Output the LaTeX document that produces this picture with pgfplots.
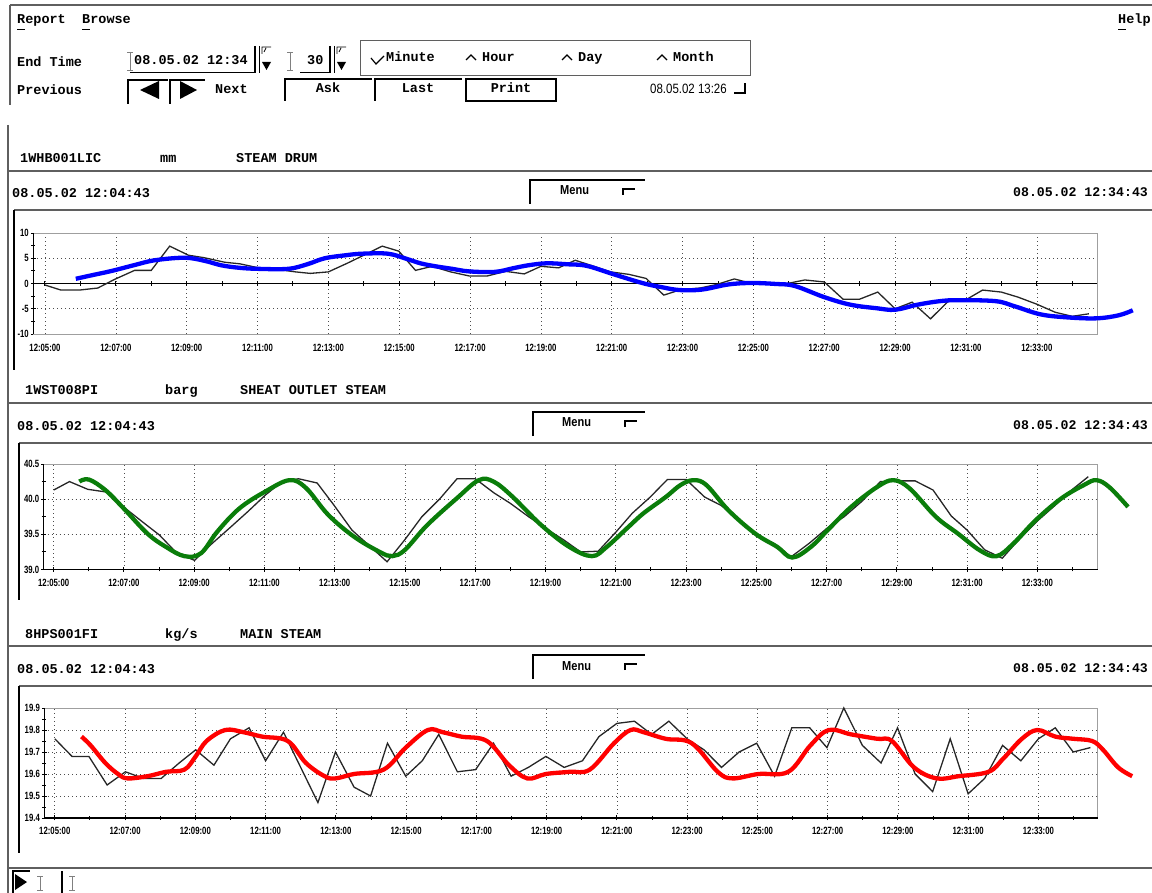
\documentclass[border=0pt]{standalone}
\usepackage{pgfplots}
\pgfplotsset{compat=1.18}
\usepackage{fontspec}
\setmainfont{Liberation Mono}
\newfontfamily\tickfont{Liberation Sans}[FakeStretch=0.74]
\newfontfamily\narrowfont{Liberation Sans}[FakeStretch=0.85]
\definecolor{dgreen}{RGB}{10,125,10}
\definecolor{fr}{RGB}{95,95,95}
\newcommand\hf{\fontsize{13.5}{14}\selectfont\bfseries}
\newcommand\tf{\tickfont\bfseries\fontsize{10.5}{10.5}\selectfont}
\pgfplotsset{
  scr/.style={scale only axis, clip=false, anchor=north west,
    axis line style={draw=gray!75, line width=0.6pt},
    xtick pos=left, ytick pos=left,
    xtick={5,7,...,33},
    xticklabels={12:05:00,12:07:00,12:09:00,12:11:00,12:13:00,12:15:00,12:17:00,12:19:00,12:21:00,12:23:00,12:25:00,12:27:00,12:29:00,12:31:00,12:33:00},
    xmajorgrids, ymajorgrids,
    major grid style={draw=black!70, line width=0.6pt, dash pattern=on 0.7pt off 3.3pt},
    tick style={black, line width=0.9pt},
    tick align=center,
    major tick length=5pt, minor tick length=4pt,
    ticklabel style={font=\tf},
    yticklabel style={xshift=1.5pt},
  },
  blk/.style={black!85, line width=1.3pt},
  col/.style={line width=4.3pt, smooth, tension=0.6},
}
\begin{document}
\begin{tikzpicture}
\useasboundingbox (0pt,0pt) rectangle (1152pt,-893pt);
\clip (0pt,0pt) rectangle (1152pt,-893pt);
\begin{scope}[x=1pt,y=-1pt]
% ---------- top frame ----------
\draw[fr, line width=1.5pt] (10,5) -- (1152,5);
\draw[fr, line width=1.5pt] (10,5) -- (10,105);
\node[anchor=base west, inner sep=0, font=\hf] at (17,24) {Report};
\draw[line width=0.8pt] (17,29) -- (25,29);
\node[anchor=base west, inner sep=0, font=\hf] at (82,24) {Browse};
\draw[line width=0.8pt] (82,29) -- (90,29);
\node[anchor=base west, inner sep=0, font=\hf] at (1118,24) {Help};
\draw[line width=0.8pt] (1118,29) -- (1126,29);
\node[anchor=base west, inner sep=0, font=\hf] at (17,67) {End Time};
\node[anchor=base west, inner sep=0, font=\hf] at (17,95) {Previous};
% end time input
\draw[gray, line width=0.8pt] (130,52) -- (130,70) (127,52) -- (133,52) (127,70) -- (133,70);
\node[anchor=base west, inner sep=0, font=\hf] at (134,65) {08.05.02 12:34};
\draw[line width=0.8pt] (130,72) -- (255,72);
\draw[line width=1.6pt] (255,46) -- (255,73);
\draw[line width=0.9pt] (259,46) -- (259,73);
\draw[line width=0.8pt] (262,54) -- (262,47) -- (271,47) (264,52) -- (266,48);
\fill (262,62) -- (271,62) -- (266.5,70) -- cycle;
\draw[gray, line width=0.8pt] (290,52) -- (290,70) (287,52) -- (293,52) (287,70) -- (293,70);
\node[anchor=base west, inner sep=0, font=\hf] at (307,65) {30};
\draw[line width=0.8pt] (300,72) -- (330,72);
\draw[line width=1.6pt] (330,46) -- (330,73);
\draw[line width=0.9pt] (334,46) -- (334,73);
\draw[line width=0.8pt] (337,54) -- (337,47) -- (346,47) (339,52) -- (341,48);
\fill (337,62) -- (346,62) -- (341.5,70) -- cycle;
% unit box
\draw[fr, line width=0.9pt] (360,40) rectangle (750,75);
\draw[line width=1.2pt] (371,58) -- (376,64) -- (384,56);
\node[anchor=base west, inner sep=0, font=\hf] at (386,62) {Minute};
\draw[line width=1.2pt] (466,60) -- (471,55) -- (476,60);
\node[anchor=base west, inner sep=0, font=\hf] at (482,62) {Hour};
\draw[line width=1.2pt] (562,60) -- (567,55) -- (572,60);
\node[anchor=base west, inner sep=0, font=\hf] at (578,62) {Day};
\draw[line width=1.2pt] (657,60) -- (662,55) -- (667,60);
\node[anchor=base west, inner sep=0, font=\hf] at (673,62) {Month};
% buttons
\draw[line width=2pt] (128,104) -- (128,80) -- (168,80);
\fill (140,90) -- (159,81) -- (159,99) -- cycle;
\draw[line width=2pt] (170,104) -- (170,80) -- (205,80);
\fill (180,81) -- (180,99) -- (197,90) -- cycle;
\node[anchor=base west, inner sep=0, font=\hf] at (215,94) {Next};
\draw[line width=1.5pt] (285,101) -- (285,79) -- (372,79);
\node[anchor=base, inner sep=0, font=\hf] at (328,93) {Ask};
\draw[line width=1.5pt] (375,101) -- (375,79) -- (462,79);
\node[anchor=base, inner sep=0, font=\hf] at (418,93) {Last};
\draw[line width=2.2pt] (466,79) rectangle (556,101);
\node[anchor=base, inner sep=0, font=\hf] at (511,93) {Print};
\node[anchor=base west, inner sep=0, font=\narrowfont\fontsize{13.5}{14}\selectfont] at (650,94) {08.05.02 13:26};
\draw[line width=1.5pt] (734,93) -- (745,93) -- (745,83);
% ---------- lower frame ----------
\draw[fr, line width=1.5pt] (8,125) -- (8,893);
% panel 1
\node[anchor=base west, inner sep=0, font=\hf] at (20,163) {1WHB001LIC};
\node[anchor=base west, inner sep=0, font=\hf] at (160,163) {mm};
\node[anchor=base west, inner sep=0, font=\hf] at (236,163) {STEAM DRUM};
\draw[fr, line width=1.6pt] (8,171) -- (1152,171);
\node[anchor=base west, inner sep=0, font=\hf] at (12,198) {08.05.02 12:04:43};
\draw[line width=1.3pt] (530,204) -- (530,180) -- (645,180);
\node[anchor=base west, inner sep=0, font=\narrowfont\bfseries\fontsize{13}{13}\selectfont] at (560,195) {Menu};
\draw[line width=1.3pt] (623,195) -- (623,189) -- (635,189);
\node[anchor=base west, inner sep=0, font=\fontsize{13.2}{14}\selectfont\bfseries] at (1013,197) {08.05.02 12:34:43};
\draw[fr, line width=1.6pt] (14,210) -- (1152,210);
\draw[line width=2pt] (14,210) -- (14,370);
% panel 2
\node[anchor=base west, inner sep=0, font=\hf] at (25,395) {1WST008PI};
\node[anchor=base west, inner sep=0, font=\hf] at (165,395) {barg};
\node[anchor=base west, inner sep=0, font=\hf] at (240,395) {SHEAT OUTLET STEAM};
\draw[fr, line width=1.6pt] (8,403) -- (1152,403);
\node[anchor=base west, inner sep=0, font=\hf] at (17,430) {08.05.02 12:04:43};
\draw[line width=1.3pt] (533,436) -- (533,412) -- (645,412);
\node[anchor=base west, inner sep=0, font=\narrowfont\bfseries\fontsize{13}{13}\selectfont] at (562,427) {Menu};
\draw[line width=1.3pt] (625,427) -- (625,421) -- (637,421);
\node[anchor=base west, inner sep=0, font=\fontsize{13.2}{14}\selectfont\bfseries] at (1013,429) {08.05.02 12:34:43};
\draw[fr, line width=1.6pt] (19,443) -- (1152,443);
\draw[line width=2pt] (19,443) -- (19,600);
% panel 3
\node[anchor=base west, inner sep=0, font=\hf] at (25,638) {8HPS001FI};
\node[anchor=base west, inner sep=0, font=\hf] at (165,638) {kg/s};
\node[anchor=base west, inner sep=0, font=\hf] at (240,638) {MAIN STEAM};
\draw[fr, line width=1.6pt] (8,646) -- (1152,646);
\node[anchor=base west, inner sep=0, font=\hf] at (17,673) {08.05.02 12:04:43};
\draw[line width=1.3pt] (533,679) -- (533,655) -- (645,655);
\node[anchor=base west, inner sep=0, font=\narrowfont\bfseries\fontsize{13}{13}\selectfont] at (562,670) {Menu};
\draw[line width=1.3pt] (625,670) -- (625,664) -- (637,664);
\node[anchor=base west, inner sep=0, font=\fontsize{13.2}{14}\selectfont\bfseries] at (1013,672) {08.05.02 12:34:43};
\draw[fr, line width=1.6pt] (19,686) -- (1152,686);
\draw[line width=2pt] (19,686) -- (19,853);
\draw[fr, line width=1.6pt] (8,868) -- (1152,868);
% bottom bar
\draw[line width=1.5pt] (13,893) -- (13,871) -- (30,871);
\fill (15,874) -- (15,890) -- (27,882) -- cycle;
\draw[gray, line width=0.8pt] (40,876) -- (40,890) (37,876) -- (43,876) (37,890) -- (43,890);
\draw[line width=1.8pt] (62,871) -- (62,893);
\draw[gray, line width=0.8pt] (72,876) -- (72,890) (69,876) -- (75,876) (69,890) -- (75,890);
\end{scope}

% ================= plot 1 =================
\begin{axis}[scr, at={(33.3pt,-233pt)}, width=1063.7pt, height=101pt,
  xmin=4.67, xmax=34.70, ymin=-10, ymax=10,
  every major x tick/.append style={opacity=0},
  xticklabel style={yshift=-4pt},
  ytick={-10,-5,0,5,10}, yticklabels={-10,-5,0,5,10}, minor y tick num=1]
\draw[black, line width=1pt] (axis cs:4.67,0) -- (axis cs:34.70,0);
\pgfplotsinvokeforeach{5,...,34}{\draw[black, line width=1pt] (axis cs:#1,0) ++(0pt,-2.5pt) -- ++(0pt,5pt);}
\draw[black, line width=1.2pt] (rel axis cs:0,1) -- (rel axis cs:0,0);
\addplot[blk] coordinates {(5.0,-0.3)(5.45,-1.3)(5.97,-1.3)(6.49,-0.9)(6.96,0.8)(7.53,2.6)(8.0,2.6)(8.52,7.4)(9.05,5.6)(9.5,5.1)(10.08,4.2)(10.5,3.9)(11.03,3.1)(11.55,2.8)(12.07,2.3)(12.49,2.0)(13.0,2.3)(13.53,4.0)(14.0,5.6)(14.52,7.4)(14.99,6.4)(15.46,2.6)(15.93,3.4)(16.45,2.3)(16.97,1.5)(17.49,1.5)(18.01,2.4)(18.53,1.9)(19.0,3.4)(19.5,3.1)(19.97,4.6)(20.5,3.4)(20.97,2.3)(21.49,1.8)(21.97,1.0)(22.47,-2.3)(22.96,-1.2)(23.49,-0.9)(23.96,-0.2)(24.46,0.9)(24.96,0.0)(25.48,0.0)(25.96,0.0)(26.45,0.7)(27.0,0.3)(27.53,-3.1)(28.0,-3.1)(28.51,-1.7)(29.0,-5.0)(29.48,-3.7)(30.0,-7.0)(30.53,-3.3)(30.98,-3.3)(31.47,-1.3)(32.0,-1.7)(32.47,-2.7)(33.0,-4.1)(33.52,-5.7)(34.0,-6.5)(34.47,-6.0)};
\addplot[col, blue] coordinates {(5.87,0.93)(6.3,1.6)(6.86,2.45)(7.5,3.6)(8.1,4.6)(8.94,5.1)(9.5,4.5)(9.98,3.6)(10.5,3.1)(11.03,2.9)(11.86,2.9)(12.4,3.8)(12.9,5.0)(13.5,5.6)(13.95,5.9)(14.68,5.9)(15.2,4.9)(15.6,4.0)(16.03,3.4)(16.5,2.9)(16.97,2.4)(17.7,2.3)(18.2,3.0)(18.64,3.6)(19.16,4.0)(19.76,3.8)(20.29,3.5)(21.02,1.9)(21.86,0.1)(22.39,-0.7)(22.92,-1.3)(23.55,-1.2)(24.28,-0.2)(24.92,0.1)(25.65,-0.1)(26.17,-0.5)(27.0,-2.7)(27.74,-4.2)(28.48,-4.9)(29.0,-5.2)(29.63,-4.2)(30.26,-3.5)(30.79,-3.3)(31.84,-3.5)(32.37,-4.5)(33.1,-6.1)(33.84,-6.7)(34.68,-6.9)(35.31,-6.3)(35.71,-5.3)};
\end{axis}

% ================= plot 2 =================
\begin{axis}[scr, at={(43.7pt,-464pt)}, width=1054pt, height=105.5pt,
  xmin=4.716, xmax=34.716, ymin=39, ymax=40.5,
  minor xtick={6,8,...,34},
  xticklabel style={yshift=-4pt},
  ytick={39,39.5,40,40.5}, yticklabels={39.0,39.5,40.0,40.5}, minor y tick num=1]
\draw[black, line width=1.2pt] (rel axis cs:0,1) -- (rel axis cs:0,0) -- (rel axis cs:1,0);
\addplot[blk] coordinates {(5.0,40.13)(5.45,40.25)(5.97,40.14)(6.52,40.10)(6.99,39.89)(7.52,39.68)(8.01,39.49)(8.51,39.23)(9.01,39.13)(9.51,39.37)(10.03,39.60)(10.52,39.82)(11.03,40.06)(11.5,40.25)(11.97,40.29)(12.5,40.23)(12.97,39.92)(13.49,39.56)(13.96,39.35)(14.49,39.11)(14.99,39.42)(15.48,39.75)(16.0,40.01)(16.48,40.29)(17.0,40.29)(17.53,40.09)(18.0,39.94)(18.52,39.75)(18.99,39.59)(19.52,39.42)(20.0,39.25)(20.5,39.26)(21.0,39.53)(21.47,39.80)(21.98,40.03)(22.47,40.28)(23.0,40.28)(23.53,40.03)(24.0,39.91)(24.47,39.72)(25.0,39.48)(25.5,39.37)(25.99,39.18)(26.5,39.37)(27.02,39.59)(27.5,39.75)(28.03,39.98)(28.53,40.25)(29.03,40.26)(29.52,40.26)(30.03,40.13)(30.55,39.76)(31.0,39.56)(31.5,39.28)(32.0,39.16)(32.5,39.44)(33.0,39.69)(33.5,39.91)(34.0,40.14)(34.45,40.32)};
\addplot[col, dgreen] coordinates {(5.73,40.25)(6.0,40.28)(6.47,40.13)(6.99,39.87)(7.67,39.51)(8.2,39.32)(8.72,39.19)(9.19,39.23)(9.66,39.54)(10.29,39.87)(11.03,40.11)(11.71,40.27)(12.18,40.16)(12.81,39.78)(13.54,39.47)(14.28,39.25)(14.64,39.19)(15.0,39.28)(15.63,39.63)(16.47,40.01)(17.1,40.27)(17.52,40.25)(18.05,40.04)(18.88,39.63)(19.68,39.32)(20.32,39.19)(20.74,39.32)(21.37,39.61)(21.79,39.80)(22.42,40.03)(22.84,40.20)(23.21,40.27)(23.58,40.20)(24.21,39.84)(24.97,39.51)(25.6,39.32)(26.02,39.17)(26.55,39.32)(27.07,39.58)(27.7,39.89)(28.43,40.17)(28.9,40.27)(29.37,40.15)(30.11,39.75)(30.74,39.51)(31.37,39.27)(31.84,39.19)(32.32,39.37)(32.95,39.70)(33.68,40.01)(34.32,40.20)(34.68,40.27)(35.05,40.17)(35.58,39.89)};
\end{axis}

% ================= plot 3 =================
\begin{axis}[scr, at={(44.4pt,-708pt)}, width=1053.4pt, height=110pt,
  xmin=4.704, xmax=34.69, ymin=19.4, ymax=19.9,
  minor xtick={6,8,...,34},
  xticklabel style={yshift=-3pt},
  ytick={19.4,19.5,19.6,19.7,19.8,19.9}, yticklabels={19.4,19.5,19.6,19.7,19.8,19.9}, minor y tick num=1]
\draw[black, line width=1.2pt] (rel axis cs:0,1) -- (rel axis cs:0,0) -- (rel axis cs:1,0);
\addplot[blk] coordinates {(5.0,19.76)(5.49,19.68)(5.97,19.68)(6.49,19.55)(7.01,19.61)(7.52,19.58)(8.03,19.58)(8.54,19.65)(9.01,19.71)(9.53,19.64)(10.0,19.76)(10.53,19.81)(11.0,19.66)(11.51,19.79)(12.0,19.63)(12.49,19.47)(12.99,19.70)(13.52,19.54)(13.99,19.50)(14.47,19.74)(14.99,19.59)(15.46,19.66)(15.93,19.78)(16.46,19.61)(16.98,19.62)(17.49,19.74)(17.99,19.59)(18.48,19.63)(18.98,19.68)(19.5,19.63)(20.02,19.66)(20.49,19.77)(21.0,19.83)(21.5,19.84)(21.99,19.78)(22.48,19.84)(23.0,19.76)(23.48,19.71)(23.98,19.63)(24.48,19.70)(24.98,19.74)(25.49,19.59)(25.98,19.81)(26.49,19.81)(26.98,19.72)(27.46,19.90)(27.99,19.73)(28.52,19.65)(28.99,19.81)(29.49,19.60)(29.99,19.52)(30.49,19.76)(31.0,19.51)(31.47,19.58)(31.98,19.73)(32.5,19.66)(33.0,19.76)(33.48,19.81)(33.99,19.70)(34.48,19.72)};
\addplot[col, red] coordinates {(5.76,19.77)(6.02,19.73)(6.44,19.65)(6.8,19.60)(7.07,19.58)(7.64,19.59)(8.17,19.61)(8.69,19.62)(9.01,19.68)(9.32,19.75)(9.85,19.80)(10.37,19.79)(10.9,19.77)(11.63,19.75)(12.15,19.65)(12.68,19.59)(12.99,19.58)(13.52,19.60)(14.36,19.62)(14.99,19.72)(15.62,19.80)(16.04,19.79)(16.57,19.77)(17.3,19.75)(17.93,19.64)(18.45,19.58)(18.98,19.60)(19.65,19.61)(20.23,19.62)(20.92,19.74)(21.39,19.80)(21.76,19.79)(22.39,19.76)(23.13,19.74)(23.87,19.61)(24.29,19.58)(25.03,19.60)(25.88,19.61)(26.51,19.73)(27.03,19.80)(27.67,19.78)(28.41,19.76)(28.83,19.75)(29.46,19.63)(30.1,19.58)(30.73,19.59)(31.58,19.61)(32.0,19.67)(32.53,19.76)(32.97,19.80)(33.48,19.77)(34.0,19.76)(34.53,19.75)(34.84,19.71)(35.27,19.63)(35.67,19.59)};
\end{axis}
\end{tikzpicture}
\end{document}
